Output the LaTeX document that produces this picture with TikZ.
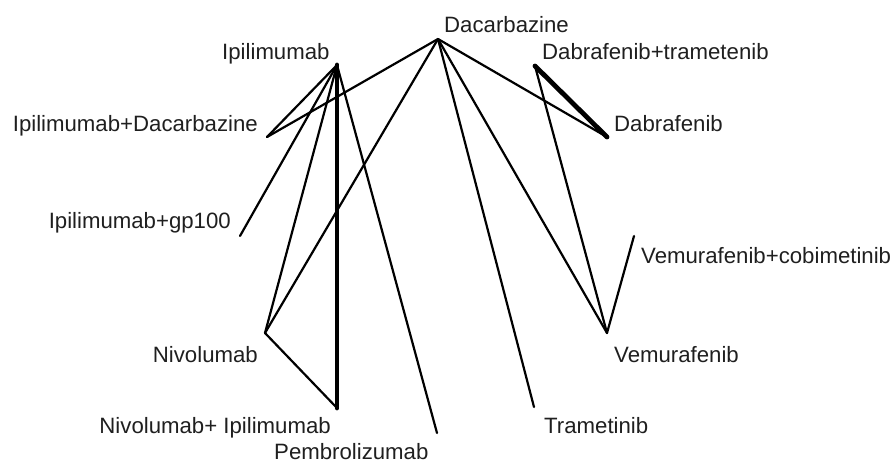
\documentclass[tikz,border=0pt]{standalone}
\usepackage{fontspec}
\setmainfont{Liberation Sans}
\tikzset{
  trt/.style={font=\fontsize{22.2}{25}\selectfont, inner sep=0pt, text=black!88},
  edge/.style={line width=2.2pt, line cap=round, line join=round},
  heavy/.style={line width=4.8pt, line cap=round}
}
\begin{document}
\begin{tikzpicture}[x=1pt,y=-1pt]
    \useasboundingbox (0,0) rectangle (895,463);

    \coordinate (dac) at (438,39);
    \coordinate (ipi) at (337,65);
    \coordinate (ipidac) at (267,137);
    \coordinate (gp) at (240,236);
    \coordinate (nivo) at (265,333);
    \coordinate (nivoipi) at (337,408);
    \coordinate (pembro) at (437,433);
    \coordinate (tram) at (534,407);
    \coordinate (vem) at (607,333);
    \coordinate (vemcobi) at (634,236);
    \coordinate (dab) at (607,137);
    \coordinate (dabtram) at (535,66);

    \draw[edge] (dac) -- (ipidac);
    \draw[edge] (dac) -- (nivo);
    \draw[edge] (dac) -- (tram);
    \draw[edge] (dac) -- (vem);
    \draw[edge] (dac) -- (dab);
    \draw[edge] (ipi) -- (ipidac);
    \draw[edge] (ipi) -- (gp);
    \draw[edge] (ipi) -- (nivo);
    \draw[edge] (ipi) -- (pembro);
    \draw[heavy] (ipi) -- (nivoipi);
    \draw[edge] (nivo) -- (nivoipi);
    \draw[heavy] (dabtram) -- (dab);
    \draw[edge] (dabtram) -- (vem);
    \draw[edge] (vem) -- (vemcobi);

    \node[trt, anchor=base west] (ldac) at (444,32) {Dacarbazine};
    \node[trt, anchor=base west] (lipi) at (222,59) {Ipilimumab};
    \node[trt, anchor=base east] (lipidac) at (258,131) {Ipilimumab+Dacarbazine};
    \node[trt, anchor=base east] (lgp) at (231,228) {Ipilimumab+gp100};
    \node[trt, anchor=base east] (lnivo) at (258,362) {Nivolumab};
    \node[trt, anchor=base east] (lnivoipi) at (331,433) {Nivolumab+ Ipilimumab};
    \node[trt, anchor=base west] (lpembro) at (274,459) {Pembrolizumab};
    \node[trt, anchor=base west] (ltram) at (544,433) {Trametinib};
    \node[trt, anchor=base west] (lvem) at (614,362) {Vemurafenib};
    \node[trt, anchor=base west] (lvemcobi) at (641,263) {Vemurafenib+cobimetinib};
    \node[trt, anchor=base west] (ldab) at (614,131) {Dabrafenib};
    \node[trt, anchor=base west] (ldabtram) at (542,59) {Dabrafenib+trametenib};
  \end{tikzpicture}
\end{document}
